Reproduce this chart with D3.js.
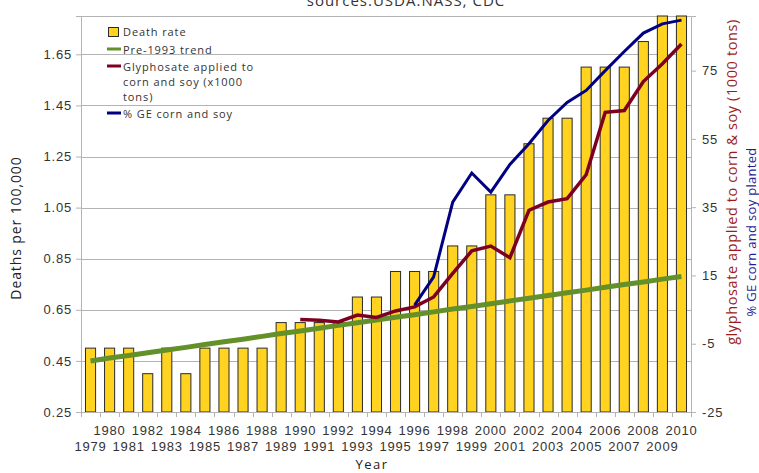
<!DOCTYPE html>
<html>
<head>
<meta charset="utf-8">
<script src="https://cdn.jsdelivr.net/npm/d3@7"></script>
<style>
  body { margin: 0; background: #fff; }
  svg { display: block; font-family: "Open Sans", sans-serif; }
  .grid line { stroke: #b3b3b3; }
  .axis path, .axis line { stroke: #b3b3b3; }
  .axis text { fill: #333; font-size: 13px; letter-spacing: 0.8px; }
  .legend text { fill: #333; font-size: 11px; letter-spacing: 0.9px; }
</style>
</head>
<body>
<div id="chart"></div>
<script>
// categories
const years = d3.range(1979, 2011);

// death rate (left axis, deaths per 100,000)
const deathRate = [0.5, 0.5, 0.5, 0.4, 0.5, 0.4, 0.5, 0.5, 0.5, 0.5,
                   0.6, 0.6, 0.6, 0.6, 0.7, 0.7, 0.8, 0.8, 0.8, 0.9,
                   0.9, 1.1, 1.1, 1.3, 1.4, 1.4, 1.6, 1.6, 1.6, 1.7,
                   1.8, 1.8];

// pre-1993 trend (left axis)
const trend = [0.450, 0.461, 0.471, 0.482, 0.493, 0.503, 0.514, 0.525, 0.535, 0.546,
               0.557, 0.567, 0.578, 0.589, 0.599, 0.610, 0.621, 0.631, 0.642, 0.653,
               0.663, 0.674, 0.685, 0.695, 0.706, 0.717, 0.727, 0.738, 0.749, 0.759,
               0.770, 0.780];

// glyphosate applied to corn and soy, 1000 tons (right axis), 1990-2010
const glyYears = d3.range(1990, 2011);
const glyphosate = [2.1, 1.9, 1.4, 3.4, 2.7, 4.6, 5.8, 8.7, 15.6, 22.2,
                    23.6, 20.2, 34.1, 36.5, 37.5, 44.5, 62.8, 63.3, 71.8, 77.0,
                    82.8];

// % GE corn and soy planted (right axis), 1996-2010
const geYears = d3.range(1996, 2011);
const gePct = [6.3, 14.6, 36.5, 45.0, 39.4, 47.5, 53.6, 60.4, 65.7, 69.2,
               75.0, 80.6, 86.0, 88.7, 89.8];

const leftTicks = [0.25, 0.45, 0.65, 0.85, 1.05, 1.25, 1.45, 1.65];
const rightTicks = [-25, -5, 15, 35, 55, 75];

const width = 759, height = 473;
const margin = {top: 16, right: 68, bottom: 61, left: 81};

const svg = d3.select("#chart").append("svg")
    .attr("width", width)
    .attr("height", height);

const x = d3.scaleBand()
    .domain(years)
    .range([margin.left, width - margin.right]);

const yL = d3.scaleLinear()
    .domain([0.25, 1.8])
    .range([height - margin.bottom, margin.top]);

const yR = d3.scaleLinear()
    .domain([-25, 91])
    .range([height - margin.bottom, margin.top]);

const cx = d => x(d) + x.bandwidth() / 2;

// title, clipped by the top edge
svg.append("text")
    .attr("x", 406)
    .attr("y", 6)
    .attr("text-anchor", "middle")
    .attr("fill", "#333")
    .style("font-size", "15px")
    .style("letter-spacing", "1px")
    .text("sources:USDA.NASS; CDC");

// gridlines
svg.append("g")
    .attr("class", "grid")
    .selectAll("line")
    .data(leftTicks)
    .join("line")
    .attr("x1", margin.left)
    .attr("x2", width - margin.right)
    .attr("y1", d => Math.round(yL(d)) + 0.5)
    .attr("y2", d => Math.round(yL(d)) + 0.5);

// top border
svg.append("line")
    .attr("x1", margin.left)
    .attr("x2", width - margin.right)
    .attr("y1", margin.top + 0.5)
    .attr("y2", margin.top + 0.5)
    .attr("stroke", "#b3b3b3");

// bars
const barW = x.bandwidth() * 0.53;
svg.append("g")
    .selectAll("rect")
    .data(years.map((yr, i) => ({yr, v: deathRate[i]})))
    .join("rect")
    .attr("x", d => cx(d.yr) - barW / 2)
    .attr("width", barW)
    .attr("y", d => yL(d.v))
    .attr("height", d => yL(0.25) - yL(d.v))
    .attr("fill", "#ffd320")
    .attr("stroke", "#2b2b2b")
    .attr("stroke-width", 1);

// axes
svg.append("g")
    .attr("class", "axis")
    .attr("transform", `translate(${margin.left},0)`)
    .call(d3.axisLeft(yL).tickValues(leftTicks).tickSize(5).tickPadding(4)
        .tickFormat(d3.format(".2f")));

svg.append("g")
    .attr("class", "axis")
    .attr("transform", `translate(${width - margin.right},0)`)
    .call(d3.axisRight(yR).tickValues(rightTicks).tickSize(5).tickPadding(6)
        .tickFormat(d => String(d)));

const xAxis = svg.append("g")
    .attr("class", "axis")
    .attr("transform", `translate(0,${height - margin.bottom})`)
    .call(d3.axisBottom(x).tickSize(0).tickPadding(0));
xAxis.select(".domain").attr("d", `M${margin.left},0.5H${width - margin.right}`);
xAxis.selectAll(".tick text")
    .attr("y", d => (d % 2 === 0 ? 14 : 30))
    .attr("dy", "0.71em");

// boundary ticks between categories
xAxis.selectAll("line.cat")
    .data(years.concat([null]))
    .join("line")
    .attr("class", "cat")
    .attr("x1", (d, i) => Math.round(margin.left + i * x.step()) + 0.5)
    .attr("x2", (d, i) => Math.round(margin.left + i * x.step()) + 0.5)
    .attr("y1", 0)
    .attr("y2", 5);

// lines
const trendLine = d3.line().x((d, i) => cx(years[i])).y(d => yL(d));
svg.append("path")
    .datum(trend)
    .attr("d", trendLine)
    .attr("fill", "none")
    .attr("stroke", "#64902a")
    .attr("stroke-width", 5);

const glyLine = d3.line().x((d, i) => cx(glyYears[i])).y(d => yR(d));
svg.append("path")
    .datum(glyphosate)
    .attr("d", glyLine)
    .attr("fill", "none")
    .attr("stroke", "#7e0021")
    .attr("stroke-width", 3.5);

const geLine = d3.line().x((d, i) => cx(geYears[i])).y(d => yR(d));
svg.append("path")
    .datum(gePct)
    .attr("d", geLine)
    .attr("fill", "none")
    .attr("stroke", "#000080")
    .attr("stroke-width", 3);

// axis titles
svg.append("text")
    .attr("transform", "translate(21,228) rotate(-90)")
    .attr("text-anchor", "middle")
    .attr("fill", "#222")
    .style("font-size", "14px")
    .style("letter-spacing", "0.9px")
    .text("Deaths per 100,000");

svg.append("text")
    .attr("x", 372)
    .attr("y", 469)
    .attr("text-anchor", "middle")
    .attr("fill", "#222")
    .style("font-size", "13px")
    .style("letter-spacing", "1.5px")
    .text("Year");

svg.append("text")
    .attr("transform", "translate(737,182) rotate(-90)")
    .attr("text-anchor", "middle")
    .attr("fill", "#9e1b1b")
    .style("font-size", "14.5px")
    .style("letter-spacing", "0.6px")
    .text("glyphosate applied to corn & soy (1000 tons)");

svg.append("text")
    .attr("transform", "translate(756,232) rotate(-90)")
    .attr("text-anchor", "middle")
    .attr("fill", "#1f1f99")
    .style("font-size", "13px")
    .style("letter-spacing", "0.3px")
    .text("% GE corn and soy planted");

// legend
const legend = svg.append("g").attr("class", "legend");
legend.append("rect")
    .attr("x", 108.5).attr("y", 27.5)
    .attr("width", 10).attr("height", 9)
    .attr("fill", "#ffd320").attr("stroke", "#2b2b2b");
legend.append("text").attr("x", 123).attr("y", 36).text("Death rate");

const swatches = [
    {y: 49, color: "#64902a", lines: ["Pre-1993 trend"]},
    {y: 66, color: "#7e0021", lines: ["Glyphosate applied to", "corn and soy (x1000", "tons)"]},
    {y: 113, color: "#000080", lines: ["% GE corn and soy"]}
];
swatches.forEach(s => {
    legend.append("line")
        .attr("x1", 107).attr("x2", 121)
        .attr("y1", s.y).attr("y2", s.y)
        .attr("stroke", s.color).attr("stroke-width", 3);
    s.lines.forEach((t, i) => {
        legend.append("text")
            .attr("x", 123)
            .attr("y", s.y + 5 + i * 15)
            .text(t);
    });
});
</script>
</body>
</html>
